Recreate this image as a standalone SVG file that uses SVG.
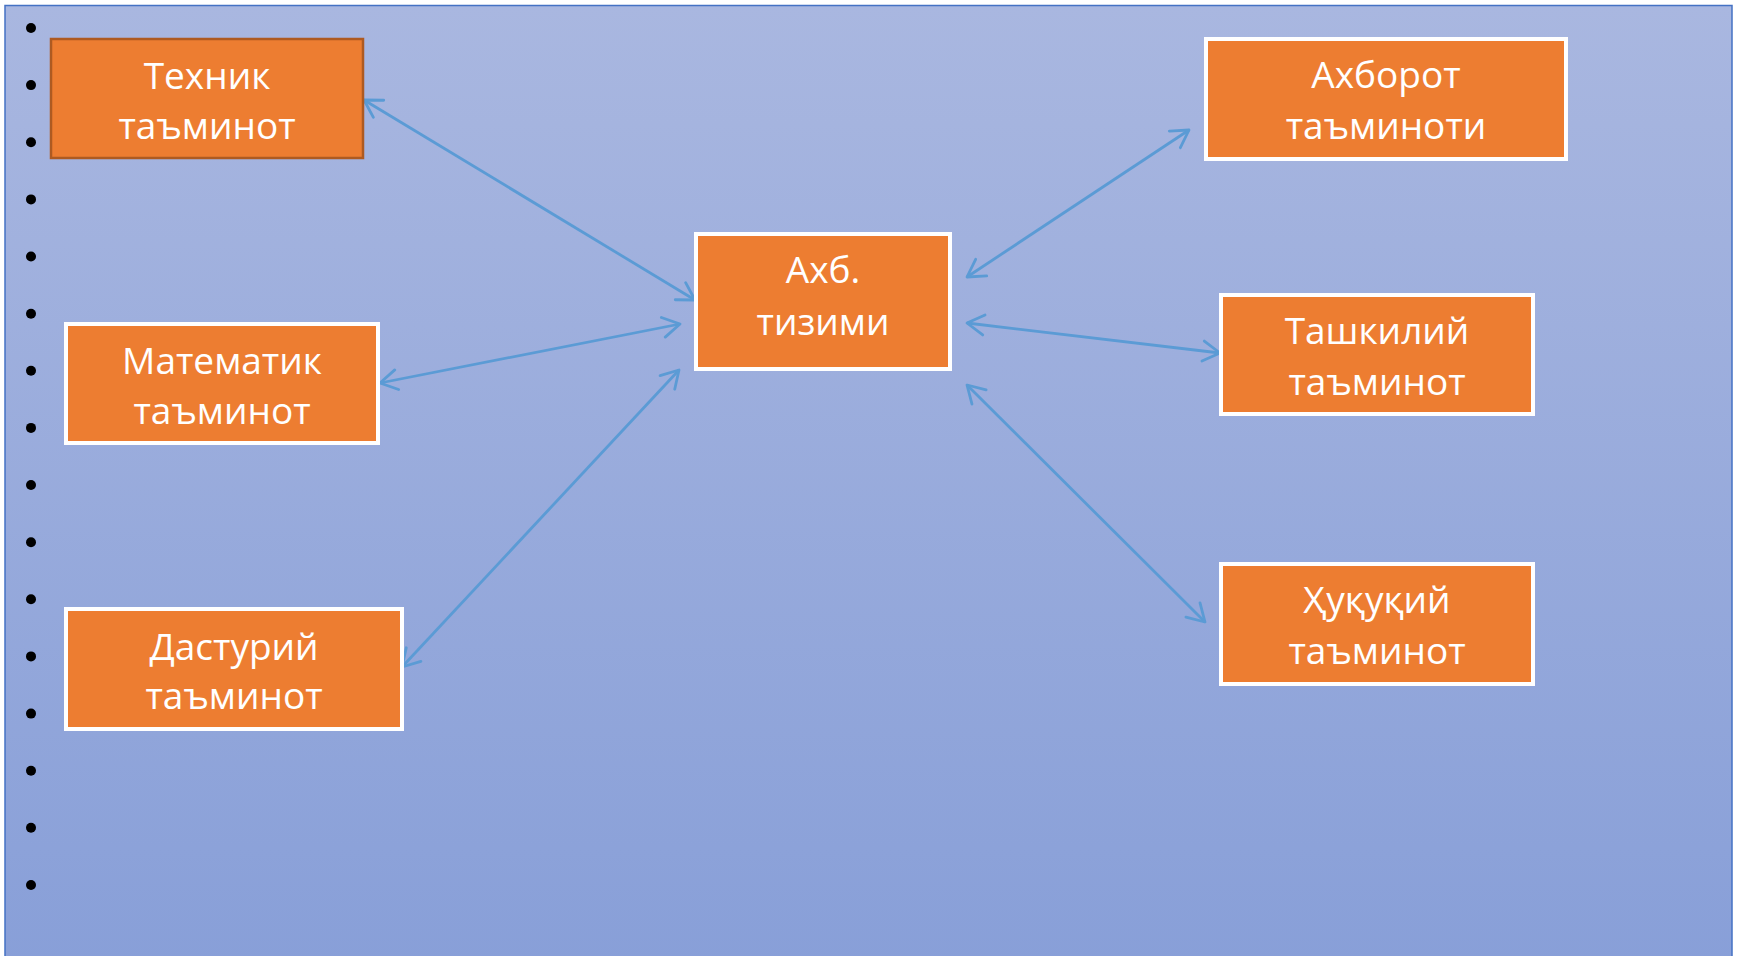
<svg xmlns="http://www.w3.org/2000/svg" width="1739" height="956" viewBox="0 0 1739 956">
<defs>
<linearGradient id="bg" x1="0" y1="0" x2="0" y2="1">
<stop offset="0" stop-color="#a9b7e0"/>
<stop offset="1" stop-color="#889fd8"/>
</linearGradient>
<marker id="ah" viewBox="-20 -12 22 24" refX="0" refY="0" markerWidth="22" markerHeight="24" markerUnits="userSpaceOnUse" orient="auto-start-reverse">
<path d="M -17,-10 L 0,0 L -17,10" fill="none" stroke="#5b9bd5" stroke-width="2.8" stroke-linecap="round" stroke-linejoin="round"/>
</marker>
<style>
.box{fill:#ed7d31;stroke:#ffffff;stroke-width:4}
.box2{fill:#ed7d31;stroke:#ae5a21;stroke-width:2.5}
.t{font-family:"Open Sans","Noto Sans","Liberation Sans",sans-serif;font-size:37px;fill:#ffffff;text-anchor:middle}
.c{fill:none;stroke:#5b9bd5;stroke-width:2.8;marker-start:url(#ah);marker-end:url(#ah)}
.b{fill:#000000}
</style>
</defs>
<rect x="0" y="0" width="1739" height="956" fill="#ffffff"/>
<rect x="5" y="5.5" width="1727" height="960" fill="url(#bg)" stroke="#4472c4" stroke-width="1.5"/>
<g id="bullets">
<circle class="b" cx="31" cy="28" r="5"/>
<circle class="b" cx="31" cy="85.1" r="5"/>
<circle class="b" cx="31" cy="142.3" r="5"/>
<circle class="b" cx="31" cy="199.4" r="5"/>
<circle class="b" cx="31" cy="256.5" r="5"/>
<circle class="b" cx="31" cy="313.7" r="5"/>
<circle class="b" cx="31" cy="370.8" r="5"/>
<circle class="b" cx="31" cy="427.9" r="5"/>
<circle class="b" cx="31" cy="485" r="5"/>
<circle class="b" cx="31" cy="542.2" r="5"/>
<circle class="b" cx="31" cy="599.3" r="5"/>
<circle class="b" cx="31" cy="656.4" r="5"/>
<circle class="b" cx="31" cy="713.6" r="5"/>
<circle class="b" cx="31" cy="770.7" r="5"/>
<circle class="b" cx="31" cy="827.8" r="5"/>
<circle class="b" cx="31" cy="885" r="5"/>
</g>
<g id="connectors">
<line class="c" x1="364" y1="100" x2="695" y2="300"/>
<line class="c" x1="380" y1="383" x2="680" y2="324"/>
<line class="c" x1="402" y1="667" x2="679" y2="370"/>
<line class="c" x1="967" y1="277" x2="1189" y2="130"/>
<line class="c" x1="967" y1="323" x2="1220" y2="353"/>
<line class="c" x1="967" y1="385" x2="1205" y2="622"/>
</g>
<g id="node-texnik">
<rect class="box2" x="51" y="39" width="312" height="119"/>
<text class="t" x="207" y="89">Техник</text>
<text class="t" x="207" y="139">таъминот</text>
</g>
<g id="node-matematik">
<rect class="box" x="66" y="324" width="312" height="119"/>
<text class="t" x="222" y="374">Математик</text>
<text class="t" x="222" y="424">таъминот</text>
</g>
<g id="node-dasturiy">
<rect class="box" x="66" y="609" width="336" height="120"/>
<text class="t" x="234" y="660">Дастурий</text>
<text class="t" x="234" y="709">таъминот</text>
</g>
<g id="node-axb">
<rect class="box" x="696" y="234" width="254" height="135"/>
<text class="t" x="823" y="283">Ахб.</text>
<text class="t" x="823" y="335">тизими</text>
</g>
<g id="node-axborot">
<rect class="box" x="1206" y="39" width="360" height="120"/>
<text class="t" x="1386" y="88">Ахборот</text>
<text class="t" x="1386" y="139">таъминоти</text>
</g>
<g id="node-tashkiliy">
<rect class="box" x="1221" y="295" width="312" height="119"/>
<text class="t" x="1377" y="344">Ташкилий</text>
<text class="t" x="1377" y="395">таъминот</text>
</g>
<g id="node-huquqiy">
<rect class="box" x="1221" y="564" width="312" height="120"/>
<text class="t" x="1377" y="613">Ҳуқуқий</text>
<text class="t" x="1377" y="664">таъминот</text>
</g>
</svg>
